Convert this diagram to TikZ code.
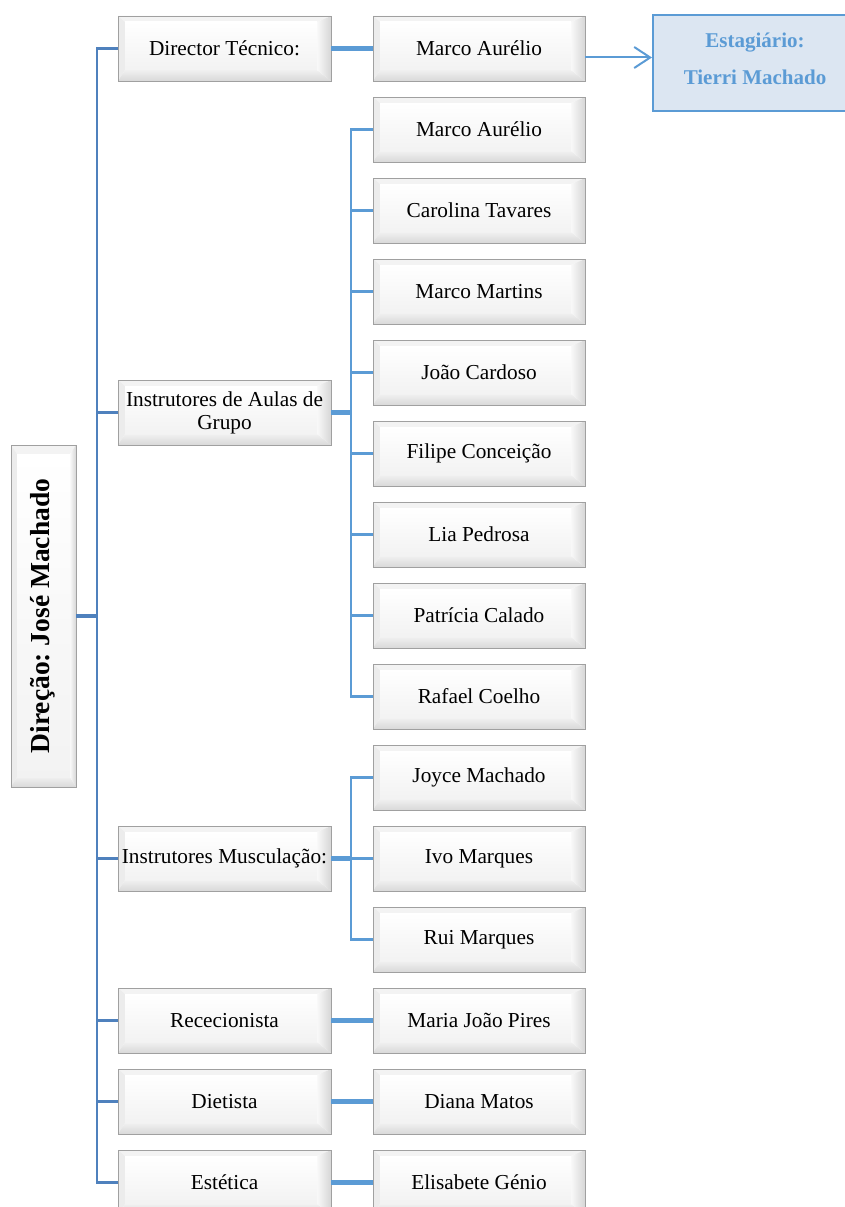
\documentclass[tikz,border=0pt]{standalone}
\usepackage{fontspec}
\setmainfont{Liberation Serif}
\frenchspacing
\usetikzlibrary{calc,arrows.meta}
\definecolor{trunkc}{HTML}{4F81BD}
\definecolor{linkc}{HTML}{5B9BD5}
\definecolor{estfill}{HTML}{DCE6F2}
\definecolor{esttext}{HTML}{5B9BD5}
\definecolor{bevedge}{HTML}{A0A0A0}
\definecolor{bevtop}{HTML}{F3F3F3}
\definecolor{bevleft}{HTML}{ECECEC}
\definecolor{bevright}{HTML}{D6D6D6}
\definecolor{bevbot}{HTML}{D9D9D9}
\tikzset{
  bl/.store in=\bevL, bt/.store in=\bevT, br/.store in=\bevR, bb/.store in=\bevB,
  bevbox/.style={rectangle, inner sep=0pt, draw=bevedge, line width=0.8pt,
    bl=7, bt=6, br=14, bb=11,
    path picture={
      \coordinate (bNW) at (path picture bounding box.north west);
      \coordinate (bNE) at (path picture bounding box.north east);
      \coordinate (bSW) at (path picture bounding box.south west);
      \coordinate (bSE) at (path picture bounding box.south east);
      \fill[white] (bNW) rectangle (bSE);
      \fill[bevtop] (bNW) -- (bNE) -- ($(bNE)+(-\bevR,\bevT)$) -- ($(bNW)+(\bevL,\bevT)$) -- cycle;
      \fill[bevleft] (bNW) -- ($(bNW)+(\bevL,\bevT)$) -- ($(bSW)+(\bevL,-\bevB)$) -- (bSW) -- cycle;
      \shade[top color=white!60!bevbot, bottom color=bevbot] (bSW) -- ($(bSW)+(\bevL,-\bevB)$) -- ($(bSE)+(-\bevR,-\bevB)$) -- (bSE) -- cycle;
      \shade[left color=white!85!bevright, right color=bevright] (bNE) -- ($(bNE)+(-\bevR,\bevT)$) -- ($(bSE)+(-\bevR,-\bevB)$) -- (bSE) -- cycle;
      \shade[top color=white, bottom color=black!5] ($(bNW)+(\bevL,\bevT)$) rectangle ($(bSE)+(-\bevR,-\bevB)$);
    }},
  lvone/.style={bevbox, minimum width=213pt, minimum height=65pt, align=center,
    font=\fontsize{21.3}{23}\selectfont},
  lvtwo/.style={bevbox, minimum width=212pt, minimum height=65pt, align=center,
    font=\fontsize{21.3}{23}\selectfont},
  rootbox/.style={bevbox, minimum width=65pt, minimum height=342pt, bl=6, bt=9, br=6, bb=10},
  estbox/.style={rectangle, draw=linkc, line width=2pt, fill=estfill, minimum width=204pt,
    minimum height=96pt},
  esttxt/.style={align=center, text=esttext, font=\bfseries\fontsize{21}{37}\selectfont},
  trunkln/.style={draw=trunkc, line width=2.8pt},
  rootln/.style={draw=trunkc, line width=4pt},
  subln/.style={draw=linkc, line width=2.8pt},
  thickln/.style={draw=linkc, line width=4.5pt},
  arrln/.style={draw=linkc, line width=2pt, -{Straight Barb[length=16pt,width=21pt,line width=2pt]}},
}
\begin{document}
\begin{tikzpicture}[x=1pt,y=-1pt]
\useasboundingbox (0,0) rectangle (844,1207);
% root
\node[rootbox] (root) at (43.5,616) {};
\node[rotate=90, font=\bfseries\fontsize{27.5}{29}\selectfont] (rootlbl) at ([xshift=-1pt]root.center) {Direção: José Machado};
% level one
\node[lvone] (d1) at (224.5,48.5) {Director Técnico:};
\node[lvone] (d2) at (224.5,412.5) {Instrutores de Aulas de\\Grupo};
\node[lvone] (d3) at (224.5,858.5) {Instrutores Musculação:};
\node[lvone] (d4) at (224.5,1020.5) {Rececionista};
\node[lvone] (d5) at (224.5,1101.5) {Dietista};
\node[lvone] (d6) at (224.5,1182.5) {Estética};
% level two
\node[lvtwo] (m0) at (479,48.5) {Marco Aurélio};
\node[lvtwo] (m1) at (479,129.5) {Marco Aurélio};
\node[lvtwo] (m2) at (479,210.5) {Carolina Tavares};
\node[lvtwo] (m3) at (479,291.5) {Marco Martins};
\node[lvtwo] (m4) at (479,372.5) {João Cardoso};
\node[lvtwo] (m5) at (479,453.5) {Filipe Conceição};
\node[lvtwo] (m6) at (479,534.5) {Lia Pedrosa};
\node[lvtwo] (m7) at (479,615.5) {Patrícia Calado};
\node[lvtwo] (m8) at (479,696.5) {Rafael Coelho};
\node[lvtwo] (m9) at (479,777.5) {Joyce Machado};
\node[lvtwo] (m10) at (479,858.5) {Ivo Marques};
\node[lvtwo] (m11) at (479,939.5) {Rui Marques};
\node[lvtwo] (m12) at (479,1020.5) {Maria João Pires};
\node[lvtwo] (m13) at (479,1101.5) {Diana Matos};
\node[lvtwo] (m14) at (479,1182.5) {Elisabete Génio};
% intern
\node[estbox] (est) at (755,63) {};
\node[esttxt] (estlbl) at ([yshift=4pt]est.center) {Estagiário:\\Tierri Machado};
% coordinates for vertical rails
\coordinate (tx) at (97,0);
\coordinate (gx) at (351,0);
% trunk
\draw[trunkln] (d1.west) -| (d6.west -| tx) -- (d6.west);
\foreach \i in {d2,d3,d4,d5} \draw[trunkln] (\i.west) -- (\i.west -| tx);
\draw[rootln] (root.east) -- (root.east -| tx);
% director
\draw[thickln] (d1.east) -- (m0.west);
\draw[arrln] ([yshift=-9pt]m0.east) -- ([yshift=-9pt]m0.east -| est.west);
% group classes
\draw[subln] (m1.west) -| (m8.west -| gx) -- (m8.west);
\foreach \i in {m2,m3,m4,m5,m6,m7} \draw[subln] (\i.west) -- (\i.west -| gx);
\draw[thickln] (d2.east) -- (d2.east -| gx);
% musculacao
\draw[subln] (m9.west) -| (m11.west -| gx) -- (m11.west);
\draw[subln] (m10.west) -- (m10.west -| gx);
\draw[thickln] (d3.east) -- (d3.east -| gx);
% single links
\draw[thickln] (d4.east) -- (m12.west);
\draw[thickln] (d5.east) -- (m13.west);
\draw[thickln] (d6.east) -- (m14.west);
\end{tikzpicture}
\end{document}
